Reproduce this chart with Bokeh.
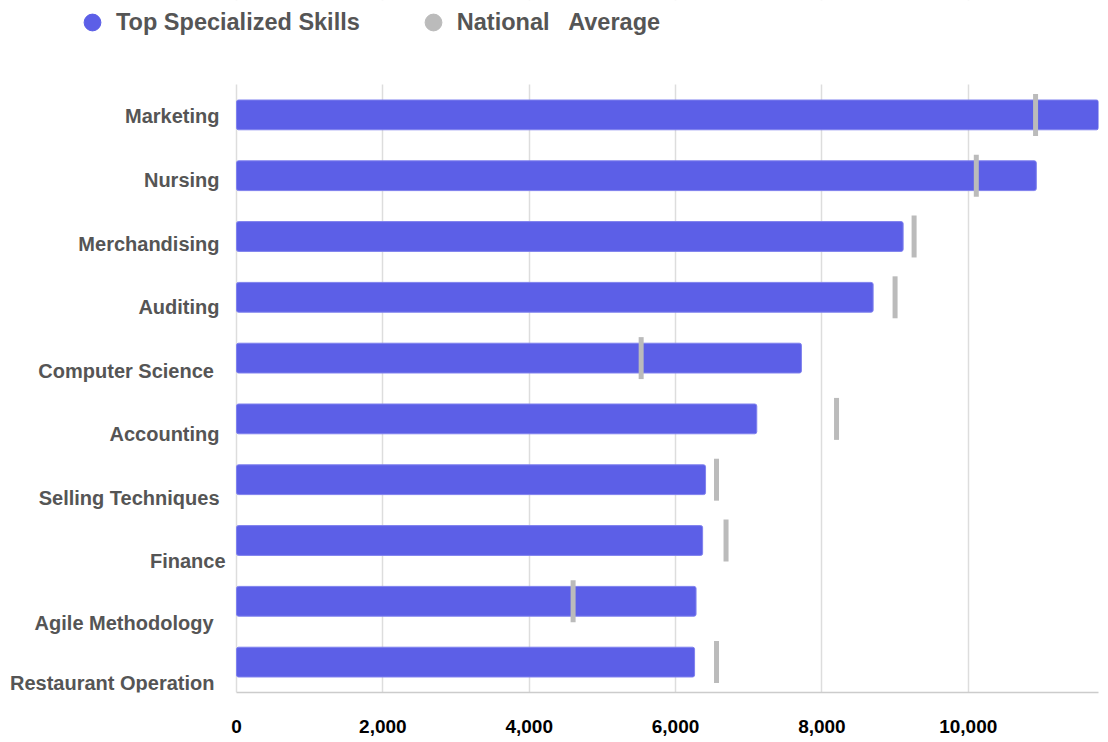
from bokeh.plotting import figure
from bokeh.models import (ColumnDataSource, Range1d, Legend, LegendItem, BoxAnnotation,
                          NumeralTickFormatter, FixedTicker)
from bokeh.core.properties import value
from bokeh.embed import file_html
from bokeh.resources import INLINE

# ---- data (top to bottom) ----
skills = ["Marketing", "Nursing", "Merchandising", "Auditing", "Computer  Science",
          "Accounting", "Selling Techniques", "Finance", "Agile Methodology",
          "Restaurant Operation"]
top_skills = [11780, 10930, 9110, 8700, 7720, 7110, 6410, 6370, 6280, 6260]
national_avg = [10920, 10110, 9260, 9000, 5530, 8200, 6560, 6690, 4600, 6560]
x_ticks = [0, 2000, 4000, 6000, 8000, 10000]
series_names = ["Top Specialized Skills", "National   Average"]

# label placement quirks of the original (screen px)
label_dx = [-17, -17, -17, -17, -17, -17, -17, -11, -23, -22]
label_dy = [1, 4, 7, 10, 13, 15, 18, 20, 22, 21]

BAR = "#5c5fe7"
AVG = "#bbbbbb"
FONT = "Liberation Sans"
W, H = 1100, 742
PLOT_LEFT, PLOT_TOP, PLOT_W, BOTTOM = 236, 84, 862, 50
FRAME_H = H - BOTTOM
ROW_PX = (FRAME_H - PLOT_TOP) / len(skills)

n = len(skills)
xmax = max(top_skills)
src = ColumnDataSource(dict(pos=list(range(n)), top=top_skills, avg=national_avg,
                            skill=skills, zero=[0] * n, dx=label_dx, dy=label_dy))

p = figure(width=W, height=H, output_backend="svg", toolbar_location=None,
           x_range=Range1d(-xmax * PLOT_LEFT / PLOT_W, xmax),
           y_range=Range1d(n - 0.5, -0.5 - PLOT_TOP / ROW_PX),
           min_border_left=0, min_border_right=W - PLOT_LEFT - PLOT_W, min_border_top=0,
           min_border_bottom=BOTTOM)
p.frame_width = W - (W - PLOT_LEFT - PLOT_W)
p.frame_height = FRAME_H
p.outline_line_color = None

# grid (hidden above the plot area)
p.xgrid.ticker = FixedTicker(ticks=x_ticks)
p.xgrid.grid_line_color = "#dddddd"
p.xgrid.grid_line_width = 1.5
p.ygrid.grid_line_color = None
p.add_layout(BoxAnnotation(bottom=-0.5, fill_color="white", fill_alpha=1,
                           line_color=None, level="underlay"))

p.hbar(y="pos", left=0, right="top", height=0.49, source=src, color=BAR,
       line_color="#7f81ee", line_width=1, border_radius=2)
p.rect(x="avg", y="pos", width=5, height=0.69, width_units="screen", source=src,
       color=AVG, line_color=None)

# x axis
p.xaxis.bounds = (0, xmax)
p.xaxis.ticker = FixedTicker(ticks=x_ticks)
p.xaxis.formatter = NumeralTickFormatter(format="0,0")
p.xaxis.major_tick_line_color = None
p.xaxis.minor_tick_line_color = None
p.xaxis.major_tick_out = 0
p.xaxis.axis_line_color = "#cccccc"
p.xaxis.axis_line_width = 1.5
p.xaxis.major_label_text_font = FONT
p.xaxis.major_label_text_font_style = "bold"
p.xaxis.major_label_text_font_size = "19px"
p.xaxis.major_label_text_color = "#000000"
p.xaxis.major_label_standoff = 27
p.yaxis.visible = False

# category labels
p.text(x="zero", y="pos", text="skill", x_offset="dx", y_offset="dy", source=src,
       text_align="right", text_baseline="middle", text_font=value(FONT),
       text_font_style="bold", text_font_size="20px", text_color="#555555")

# legend with circle glyphs (renderers themselves hidden)
r1 = p.scatter(x="top", y="pos", source=src, marker="circle", size=17, color=BAR, visible=False)
r2 = p.scatter(x="avg", y="pos", source=src, marker="circle", size=17, color=AVG, visible=False)
legend = Legend(items=[LegendItem(label=series_names[0], renderers=[r1]),
                       LegendItem(label=series_names[1], renderers=[r2])],
                orientation="horizontal", location=(71, FRAME_H - 43), padding=0, margin=0,
                spacing=52, label_standoff=3, glyph_width=42, glyph_height=42,
                label_text_font=FONT, label_text_font_style="bold",
                label_text_font_size="23.5px", label_text_color="#555555",
                border_line_alpha=0, background_fill_alpha=0, click_policy="none")
p.add_layout(legend)

open("out.html", "w").write(file_html(p, INLINE))
